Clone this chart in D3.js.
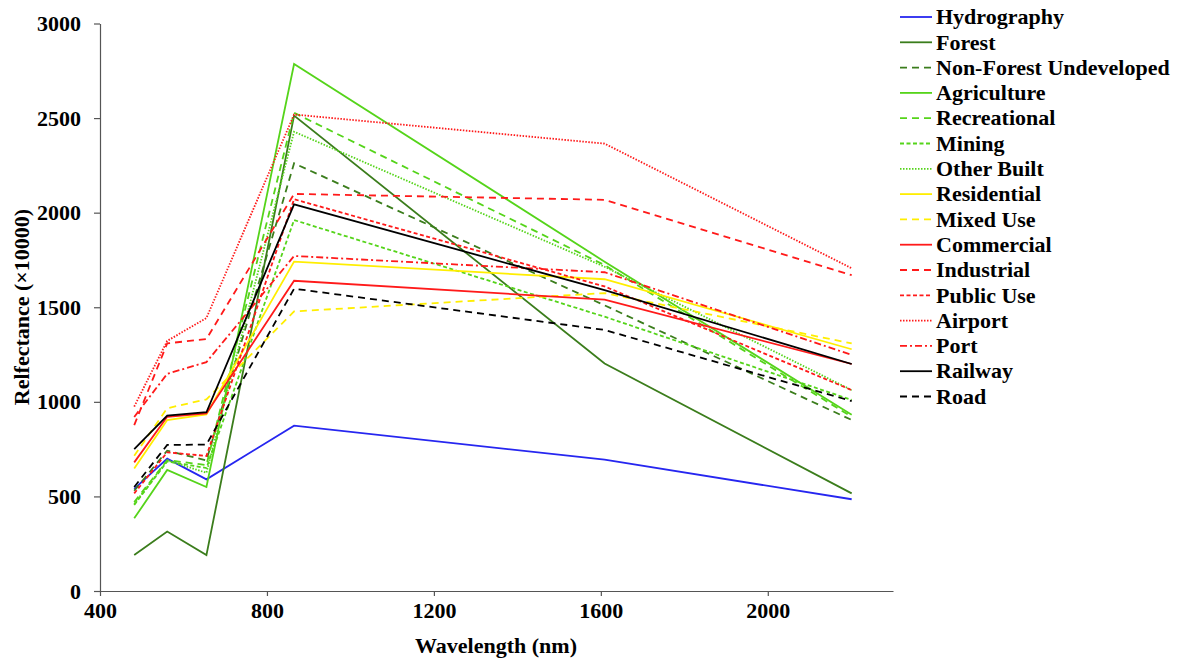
<!DOCTYPE html>
<meta charset="utf-8">
<style>
body {
  margin: 0;
  background: #fff;
  font-family: "Liberation Serif", "Times New Roman", serif;
  font-weight: bold;
}
.axis path, .axis line {
  stroke: #555;
  stroke-width: 1.2;
}
.axis text {
  font-family: "Liberation Serif", serif;
  font-weight: bold;
  font-size: 22px;
  fill: #000;
}
.series {
  fill: none;
  stroke-width: 1.8;
}
</style>
<body>
<script src="https://cdn.jsdelivr.net/npm/d3@7"></script>
<script>

var width = 1184,
    height = 659;

// Landsat band centres (nm)
var bands = [482, 561, 655, 865, 1609, 2201];

var classes = ["Hydrography", "Forest", "Non-Forest Undeveloped", "Agriculture",
  "Recreational", "Mining", "Other Built", "Residential", "Mixed Use",
  "Commercial", "Industrial", "Public Use", "Airport", "Port", "Railway", "Road"];

var reflectance = [
  [540, 700, 590, 874, 694, 485],
  [190, 314, 190, 2513, 1203, 516],
  [530, 742, 690, 2261, 1510, 904],
  [384, 640, 550, 2786, 1741, 932],
  [470, 692, 666, 2528, 1723, 921],
  [455, 685, 650, 1961, 1450, 1010],
  [460, 690, 625, 2428, 1714, 1062],
  [648, 904, 934, 1741, 1648, 1278],
  [715, 966, 1013, 1478, 1575, 1309],
  [680, 921, 939, 1640, 1540, 1200],
  [877, 1309, 1332, 2099, 2068, 1670],
  [516, 733, 714, 2071, 1610, 1062],
  [975, 1322, 1443, 2519, 2365, 1706],
  [920, 1148, 1210, 1771, 1685, 1248],
  [750, 927, 945, 2044, 1590, 1200],
  [550, 772, 774, 1598, 1380, 1004]
];

var xTicks = [400, 800, 1200, 1600, 2000];
var yTicks = [0, 500, 1000, 1500, 2000, 2500, 3000];

// styles
var colors = ["#2626f0", "#3b7d1c", "#3b7d1c", "#55d41a", "#55d41a", "#55d41a", "#55d41a",
  "#ffee00", "#ffee00", "#ff1a1a", "#ff1a1a", "#ff1a1a", "#ff1a1a", "#ff1a1a", "#000", "#000"];
var dashes = [null, null, "7,5", null, "7,5", "4,2.5", "1.5,1.5", null, "7,5",
  null, "7,5", "4,2.5", "1.5,1.5", "7,3,2,3", null, "7,5"];

var x = d3.scaleLinear().domain([400, 2300]).range([100, 893]);
var y = d3.scaleLinear().domain([0, 3000]).range([591, 23.5]);

var svg = d3.select("body").append("svg")
    .attr("width", width)
    .attr("height", height);

svg.append("g")
    .attr("class", "axis")
    .attr("transform", "translate(0,591)")
    .call(d3.axisBottom(x).tickValues(xTicks).tickFormat(d3.format("d"))
      .tickSize(5).tickPadding(6).tickSizeOuter(0));

svg.append("g")
    .attr("class", "axis")
    .attr("transform", "translate(100,0)")
    .call(d3.axisLeft(y).tickValues(yTicks).tickFormat(d3.format("d"))
      .tickSize(6).tickPadding(13).tickSizeOuter(0));

var line = d3.line()
    .x(function(d, i) { return x(bands[i]); })
    .y(function(d) { return y(d); });

svg.selectAll(".series")
    .data(reflectance)
  .enter().append("path")
    .attr("class", "series")
    .attr("d", line)
    .attr("stroke", function(d, i) { return colors[i]; })
    .attr("stroke-dasharray", function(d, i) { return dashes[i]; });

svg.append("text")
    .attr("text-anchor", "middle")
    .attr("x", 496)
    .attr("y", 653)
    .style("font-size", "22px")
    .text("Wavelength (nm)");

svg.append("text")
    .attr("text-anchor", "middle")
    .attr("transform", "translate(29,307) rotate(-90)")
    .style("font-size", "22px")
    .text("Relfectance (\u00d710000)");

var legend = svg.selectAll(".legend")
    .data(classes)
  .enter().append("g")
    .attr("class", "legend")
    .attr("transform", function(d, i) { return "translate(900," + (17 + i * 25.3) + ")"; });

legend.append("line")
    .attr("x1", 0)
    .attr("x2", 32)
    .attr("stroke-width", 1.8)
    .attr("stroke", function(d, i) { return colors[i]; })
    .attr("stroke-dasharray", function(d, i) { return dashes[i]; });

legend.append("text")
    .attr("x", 36)
    .attr("dy", "0.33em")
    .style("font-size", "22px")
    .text(function(d) { return d; });

</script>
